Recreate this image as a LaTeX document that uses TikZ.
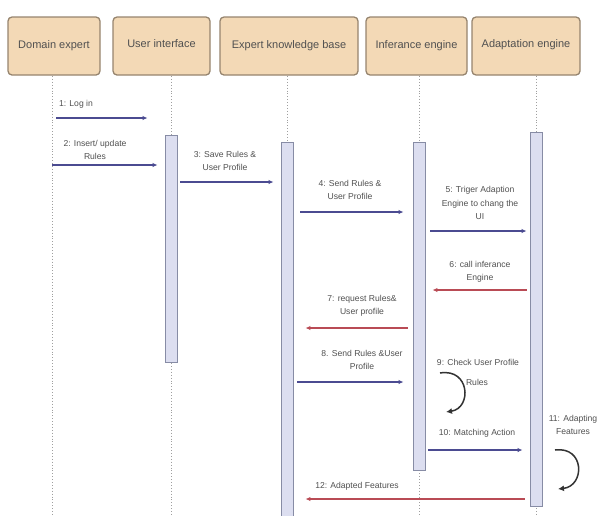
\documentclass[tikz,border=0pt]{standalone}
\usepackage{fontspec}
\setmainfont{Liberation Sans}
\usetikzlibrary{arrows.meta}

\definecolor{headfill}{RGB}{243,217,182}
\definecolor{headline}{RGB}{150,132,110}
\definecolor{barfill}{RGB}{220,222,240}
\definecolor{barline}{RGB}{135,140,165}
\definecolor{bluemsg}{RGB}{75,75,145}
\definecolor{redmsg}{RGB}{185,75,85}
\definecolor{txtgray}{RGB}{80,80,80}

\tikzset{
  head/.style={draw=headline, line width=1.3pt, fill=headfill, rounded corners=4pt,
    text=txtgray, font=\fontsize{11}{12}\selectfont, inner sep=0pt, minimum height=58pt},
  life/.style={draw=gray!75, dotted, line width=0.9pt},
  bar/.style={draw=barline, fill=barfill, line width=0.9pt, minimum width=12pt,
    inner sep=0pt, anchor=north},
  msg/.style={draw=bluemsg, line width=1.4pt, -{Latex[length=5pt,width=4.5pt]}},
  rmsg/.style={draw=redmsg, line width=1.4pt, -{Latex[length=5pt,width=4.5pt]}},
  lbl/.style={text=txtgray, font=\fontsize{8.6}{13.5}\selectfont, align=center, inner sep=0pt},
  selfar/.style={draw=black!80, line width=1.5pt, -{Latex[length=6pt,width=6pt]}}
}

\begin{document}
\begin{tikzpicture}[x=1pt,y=-1pt]
\useasboundingbox (0,0) rectangle (602,515);

% header boxes
\node[head, minimum width=92pt]  (dexp) at (54,46)    {Domain expert};
\node[head, minimum width=97pt]  (uint) at (161.5,46) {\raisebox{4pt}{User interface}};
\node[head, minimum width=138pt] (ekb)  at (289,46)   {Expert knowledge base};
\node[head, minimum width=101pt] (infe) at (416.5,46) {Inferance engine};
\node[head, minimum width=108pt] (adpe) at (526,46)   {\raisebox{4pt}{Adaptation engine}};

% lifelines
\coordinate (lde) at (52,76);
\coordinate (lui) at (171,76);
\coordinate (lkb) at (287,76);
\coordinate (lin) at (419,76);
\coordinate (lad) at (536,76);
\foreach \l in {lde,lui,lkb,lin,lad}
  \draw[life] (\l) -- (\l |- 0,515);

% activation bars
\node[bar, minimum height=227pt] (uibar)  at (171,135) {};
\node[bar, minimum height=380pt] (kbbar)  at (287,142) {};
\node[bar, minimum height=328pt] (infbar) at (419,142) {};
\node[bar, minimum height=374pt] (adbar)  at (536,132) {};

% messages
\node[lbl] (l1) at (76,104) {1: Log in};
\draw[msg, shorten <=4pt, shorten >=17pt] (lde |- 0,118) -- (uibar.west |- 0,118);

\node[lbl] (l2) at (95,150) {2: Insert/ update\\Rules};
\draw[msg, shorten >=7pt] (lde |- 0,165) -- (uibar.west |- 0,165);

\node[lbl] (l3) at (225,161) {3: Save Rules \&\\User Profile};
\draw[msg, shorten <=3pt, shorten >=7pt] (uibar.east |- 0,182) -- (kbbar.west |- 0,182);

\node[lbl] (l4) at (350,190) {4: Send Rules \&\\User Profile};
\draw[msg, shorten <=7pt, shorten >=9pt] (kbbar.east |- 0,212) -- (infbar.west |- 0,212);

\node[lbl] (l5) at (480,203) {5: Triger Adaption\\Engine to chang the\\UI};
\draw[msg, shorten <=5pt, shorten >=3pt] (infbar.east |- 0,231) -- (adbar.west |- 0,231);

\node[lbl] (l6) at (480,272) {6: call inferance\\Engine};
\draw[rmsg, shorten <=3pt, shorten >=7pt] (adbar.west |- 0,290) -- (infbar.east |- 0,290);

\node[lbl] (l7) at (362,306) {7: request Rules\&\\User profile};
\draw[rmsg, shorten <=5pt, shorten >=12pt] (infbar.west |- 0,328) -- (kbbar.east |- 0,328);

\node[lbl] (l8) at (362,360) {8. Send Rules \&User\\Profile};
\draw[msg, shorten <=4pt, shorten >=9pt] (kbbar.east |- 0,382) -- (infbar.west |- 0,382);

\node[lbl] (l9)  at (478,362) {9: Check User Profile};
\node[lbl] (l9b) at (477,382) {Rules};
\draw[selfar] (440,373) .. controls (470,368) and (472,408) .. (446,412);

\node[lbl] (l10) at (477,433) {10: Matching Action};
\draw[msg, shorten <=3pt, shorten >=7pt] (infbar.east |- 0,450) -- (adbar.west |- 0,450);

\node[lbl] (l11) at (573,425) {11: Adapting\\Features};
\draw[selfar] (555,450) .. controls (585,446) and (585,486) .. (558,489);

\node[lbl] (l12) at (357,486) {12: Adapted Features};
\draw[rmsg, shorten <=5pt, shorten >=12pt] (adbar.west |- 0,499) -- (kbbar.east |- 0,499);
\end{tikzpicture}
\end{document}
